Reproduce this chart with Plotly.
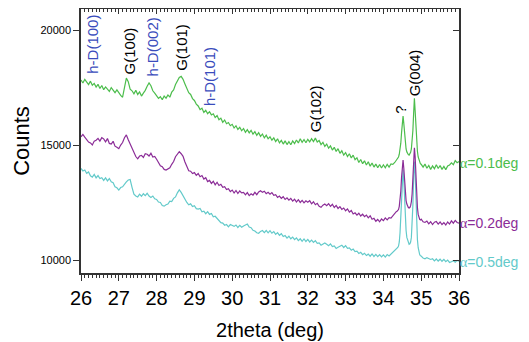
import numpy as np
import plotly.graph_objects as go

# 2theta grids: coarse 26.00-34.30 (0.05), fine 34.32-34.98 (0.02), coarse 35.00-36.00 (0.05)
STEP_COARSE = 0.05
STEP_FINE = 0.02

green_lo = [
    17850, 17720, 17880, 17760, 17650, 17800, 17620, 17700, 17540, 17660,
    17480, 17610, 17430, 17550, 17470, 17350, 17520, 17400, 17300, 17420,
    17280, 17180, 17100, 17600, 17930, 17780, 17450, 17380, 17250, 17400,
    17220, 17330, 17150, 17280, 17400, 17580, 17720, 17600, 17380, 17280,
    17180, 17050, 17120, 16990, 17150, 17060, 17200, 17100, 17320, 17420,
    17650, 17820, 17960, 18010, 17880, 17680, 17520, 17300, 17220, 17040,
    16960, 16800, 16720, 16560, 16620, 16440, 16530, 16380, 16470, 16330,
    16380, 16220, 16300, 16120, 16190, 16010, 16110, 15950, 16000, 15860,
    15920, 15760, 15860, 15700, 15790, 15640, 15740, 15570, 15690, 15550,
    15660, 15490, 15600, 15440, 15560, 15400, 15500, 15330, 15450, 15290,
    15380, 15230, 15330, 15170, 15290, 15110, 15220, 15060, 15200, 15040,
    15170, 15030, 15200, 15080, 15240, 15110, 15290, 15140, 15260, 15120,
    15270, 15160, 15300, 15170, 15320, 15150, 15220, 15040, 15140, 14960,
    15060, 14880, 14980, 14800, 14920, 14740, 14860, 14660, 14770, 14580,
    14690, 14520, 14640, 14460, 14580, 14380, 14460, 14260, 14390, 14210,
    14330, 14150, 14290, 14100, 14240, 14060, 14190, 14030, 14170, 14020,
    14160, 14030, 14180, 14060, 14200, 14180, 14260,
]
green_fine = [
    14300, 14340, 14380, 14430, 14500, 14620, 14800, 15100, 15550, 16000,
    16280, 15950, 15450, 15080, 14850, 14720, 14640, 14600, 14580, 14620,
    14700, 14850, 15150, 15650, 16400, 17050, 16500, 15700, 15100, 14750,
    14500, 14350, 14250, 14200,
]
green_hi = [
    14180, 14060, 14190, 14010, 14130, 13960, 14110, 13990, 14160, 14000,
    14130, 13960, 14090, 13950, 14110, 14150, 14240, 14160, 14340, 14250,
    14300,
]

purple_lo = [
    15380, 15480, 15360, 15260, 15150, 15110, 15020, 15190, 15230, 15310,
    15190, 15340, 15290, 15160, 15300, 15090, 15060, 15180, 14970, 14920,
    14860, 15020, 15130, 15340, 15460, 15250, 15060, 14820, 14700, 14520,
    14420, 14540, 14570, 14480, 14640, 14620, 14540, 14660, 14500, 14520,
    14400, 14280, 14120, 14080, 13960, 13930, 13980, 14030, 14180, 14300,
    14510, 14600, 14730, 14640, 14530, 14280, 14060, 13900, 13880, 13780,
    13820, 13700, 13780, 13640, 13690, 13540, 13600, 13430, 13480, 13350,
    13440, 13290, 13400, 13260, 13310, 13180, 13210, 13080, 13120, 12990,
    13060, 12930, 13040, 12910, 13020, 12940, 12960, 12850, 12950, 12820,
    12900, 12840, 12960, 12860, 12980, 13030, 12960, 13010, 12900, 12960,
    12880, 12950, 12830, 12860, 12740, 12800, 12700, 12770, 12650, 12720,
    12620, 12700, 12580, 12660, 12540, 12640, 12520, 12610, 12500, 12590,
    12530, 12600, 12460, 12550, 12420, 12480, 12350, 12310, 12400, 12450,
    12380, 12470, 12350, 12440, 12300, 12390, 12260, 12340, 12220, 12280,
    12160, 12240, 12100, 12170, 12020, 12070, 11970, 12050, 11930, 12010,
    11900, 11970, 11850, 11940, 11790, 11830, 11700, 11780, 11680, 11800,
    11730, 11850, 11760, 11860, 11840, 11960, 12050,
]
purple_fine = [
    12080, 12120, 12140, 12180, 12210, 12350, 12600, 13000, 13600, 14150,
    14370, 14000, 13400, 12900, 12600, 12450, 12350, 12300, 12280, 12300,
    12380, 12550, 12900, 13500, 14300, 14900, 14500, 13600, 12800, 12300,
    12000, 11850, 11780, 11760,
]
purple_hi = [
    11790, 11680, 11650, 11710, 11590, 11680, 11560, 11660, 11690, 11580,
    11670, 11560, 11640, 11540, 11670, 11580, 11720, 11620, 11740, 11650,
    11620,
]

cyan_lo = [
    14000, 13890, 13930, 13790, 13850, 13680, 13620, 13740, 13590, 13690,
    13560, 13600, 13480, 13590, 13460, 13560, 13420, 13380, 13200, 13160,
    13060, 13170, 13200, 13340, 13420, 13500, 13520, 13180, 12880, 12800,
    12760, 12880, 12790, 12900, 12820, 12920, 12800, 12740, 12800, 12680,
    12650, 12540, 12520, 12390, 12360, 12420, 12450, 12580, 12560, 12700,
    12760, 12940, 13070, 12960, 12820, 12620, 12520, 12420, 12460, 12340,
    12380, 12250, 12230, 12260, 12110, 12140, 12030, 12120, 12000, 12040,
    11900, 11920, 11820, 11760, 11640, 11620, 11530, 11560, 11460, 11560,
    11530, 11480, 11540, 11430, 11520, 11440, 11500, 11530, 11580, 11450,
    11420, 11310, 11280, 11200, 11180, 11260, 11300, 11210, 11300, 11200,
    11290, 11180, 11250, 11130, 11210, 11090, 11160, 11040, 11080, 10970,
    11050, 10940, 11010, 10900, 10980, 10860, 10940, 10830, 10930, 10820,
    10910, 10800, 10880, 10780, 10860, 10740, 10760, 10660, 10710, 10760,
    10700, 10640, 10720, 10600, 10630, 10520, 10570, 10620, 10660, 10560,
    10640, 10520, 10540, 10440, 10490, 10380, 10400, 10300, 10350, 10250,
    10310, 10210, 10270, 10180, 10280, 10170, 10260, 10160, 10250, 10150,
    10240, 10140, 10250, 10190, 10270, 10320, 10400,
]
cyan_fine = [
    10440, 10480, 10520, 10560, 10620, 10800, 11200, 11900, 12900, 13700,
    13950, 13500, 12600, 11800, 11300, 11000, 10850, 10750, 10700, 10720,
    10800, 11000, 11500, 12400, 13600, 14300, 13800, 12600, 11500, 10900,
    10550, 10350, 10250, 10200,
]
cyan_hi = [
    10190, 10100, 10070, 10120, 10060, 10040, 10070, 9980, 10060, 9970,
    10050, 9960, 10040, 9940, 10010, 9910, 9940, 9980, 9920, 10000,
    9960,
]

series_names = ["α=0.1deg", "α=0.2deg", "α=0.5deg"]
x_ticks = list(range(26, 37))
y_ticks = [10000, 15000, 20000]

peak_labels = ["h-D(100)", "G(100)", "h-D(002)", "G(101)", "h-D(101)", "G(102)", "?", "G(004)"]
peak_pos = [26.32, 27.29, 27.9, 28.65, 29.4, 32.21, 34.43, 34.83]
peak_kind = ["hD", "G", "hD", "G", "hD", "G", "G", "G"]


def grid(lo, fine, hi):
    a = 26.0 + STEP_COARSE * np.arange(len(lo))
    b = a[-1] + STEP_FINE * (1 + np.arange(len(fine)))
    c = 35.0 + STEP_COARSE * np.arange(len(hi))
    return np.round(np.concatenate([a, b, c]), 3)


GREEN = "#4cbd4c"
PURPLE = "#8b2c97"
CYAN = "#63caca"
BLUE = "#3a4cbc"

fig = go.Figure()
fig.add_trace(go.Scatter(x=grid(cyan_lo, cyan_fine, cyan_hi), y=cyan_lo + cyan_fine + cyan_hi,
                         mode="lines", line=dict(color=CYAN, width=1.2), name=series_names[2]))
fig.add_trace(go.Scatter(x=grid(purple_lo, purple_fine, purple_hi), y=purple_lo + purple_fine + purple_hi,
                         mode="lines", line=dict(color=PURPLE, width=1.2), name=series_names[1]))
fig.add_trace(go.Scatter(x=grid(green_lo, green_fine, green_hi), y=green_lo + green_fine + green_hi,
                         mode="lines", line=dict(color=GREEN, width=1.2), name=series_names[0],
                         xaxis="x2", yaxis="y2"))

XR = [26, 36]
YR = [9450, 20940]
font = "Liberation Sans, Arial, sans-serif"

# the page body adds an 8 px offset; figure is sized to fit the 529x342 window
fig.update_layout(
    width=521, height=334,
    margin=dict(l=73, r=70, t=1, b=69),
    paper_bgcolor="white", plot_bgcolor="white",
    showlegend=False,
    font=dict(family=font, color="black"),
    xaxis=dict(range=XR, tickvals=x_ticks, ticks="outside", ticklen=6, tickwidth=1,
               tickcolor="#333", showline=True, linecolor="#333", linewidth=1.5,
               showgrid=False, zeroline=False, tickfont=dict(size=20),
               minor=dict(dtick=0.1, ticks="outside", ticklen=3, tickcolor="#333", showgrid=False),
               title=dict(text="2theta (deg)", font=dict(size=20), standoff=15)),
    xaxis2=dict(range=XR, overlaying="x", side="top", tickvals=x_ticks, ticks="inside",
                ticklen=5, tickcolor="#333", showticklabels=False, showline=True,
                linecolor="#333", linewidth=1.5, showgrid=False, zeroline=False,
                minor=dict(dtick=0.1, ticks="inside", ticklen=3, tickcolor="#333", showgrid=False)),
    yaxis=dict(range=YR, tickvals=y_ticks, ticktext=[str(v) for v in y_ticks],
               ticks="outside", ticklen=6, tickcolor="#333", showline=True,
               linecolor="#333", linewidth=1.5, showgrid=False, zeroline=False,
               tickfont=dict(size=11),
               title=dict(text="Counts", font=dict(size=22), standoff=5)),
    yaxis2=dict(range=YR, overlaying="y", side="right", tickvals=y_ticks, ticks="inside",
                ticklen=6, tickcolor="#333", showticklabels=False, showline=True,
                linecolor="#333", linewidth=1.5, showgrid=False, zeroline=False),
)

# peak labels (rotated); positions measured in page pixels
bottoms_px = [75, 75, 77, 72, 107, 133, 115, 97]
plot_top, plot_bot = 8.7, 273.3
for lab, xpos, kind, bpx in zip(peak_labels, peak_pos, peak_kind, bottoms_px):
    fig.add_annotation(x=xpos, xref="x", y=(plot_bot - bpx) / (plot_bot - plot_top), yref="paper",
                       text=lab, textangle=-90, showarrow=False, xanchor="center", yanchor="bottom",
                       font=dict(size=15, color=BLUE if kind == "hD" else "black", family=font),
                       borderpad=0)

# series labels on the right
label_px = [163, 223, 262]
label_col = [GREEN, PURPLE, CYAN]
for name, lpx, col in zip(series_names, label_px, label_col):
    fig.add_annotation(x=1, xref="paper", y=(plot_bot - lpx) / (plot_bot - plot_top), yref="paper",
                       text='<span style="font-family:Liberation Serif, serif">α</span>' + name[1:],
                       showarrow=False, xanchor="left", yanchor="middle", xshift=0,
                       font=dict(size=14, color=col, family=font), borderpad=0)

fig.write_html("out.html")
